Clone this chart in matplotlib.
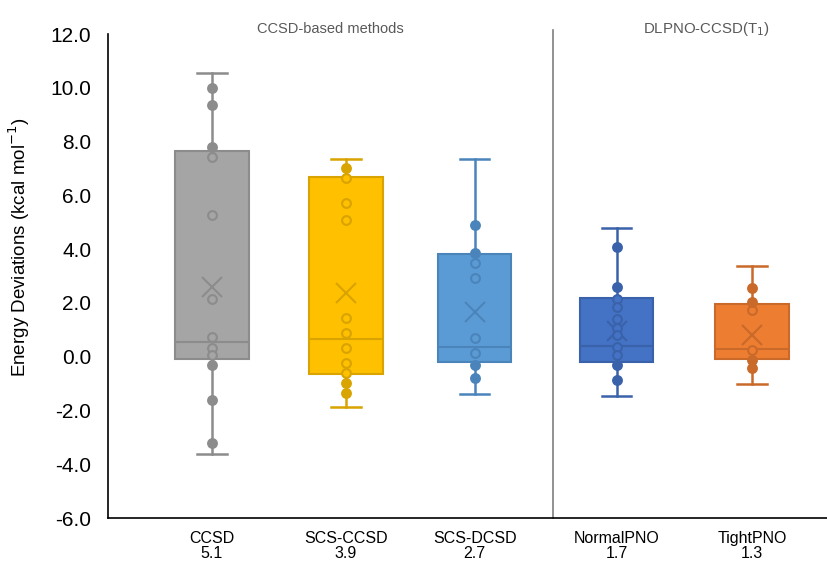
import numpy as np
import matplotlib.pyplot as plt

plt.rcParams['font.family'] = ['Liberation Sans', 'DejaVu Sans']

methods = ['CCSD', 'SCS-CCSD', 'SCS-DCSD', 'NormalPNO', 'TightPNO']
scores = ['5.1', '3.9', '2.7', '1.7', '1.3']
positions = [0, 1, 1.96, 3.02, 4.03]

# box statistics
q1 = [-0.10, -0.65, -0.19, -0.19, -0.10]
med = [0.56, 0.65, 0.37, 0.40, 0.29]
q3 = [7.65, 6.69, 3.82, 2.17, 1.96]
means = [2.58, 2.38, 1.65, 0.96, 0.81]
wlo = [-3.62, -1.86, -1.40, -1.45, -1.03]
whi = [10.55, 7.35, 7.35, 4.77, 3.37]

points = [
    [10.0, 9.36, 7.78, 7.41, 5.27, 2.13, 0.72, 0.34, 0.06, -0.31, -1.61, -3.2],
    [7.03, 6.65, 5.73, 5.07, 1.43, 0.88, 0.32, -0.22, -0.59, -0.97, -1.36],
    [4.88, 3.87, 3.49, 2.94, 0.71, 0.15, -0.32, -0.78],
    [4.07, 2.58, 2.13, 1.84, 1.39, 1.08, 0.81, 0.36, 0.06, -0.32, -0.87],
    [2.57, 2.02, 1.72, 0.25, -0.12, -0.43],
]

fills = ['#A5A5A5', '#FFC000', '#5B9BD5', '#4472C4', '#ED7D31']
edges = ['#8C8C8C', '#D9A300', '#4A84BA', '#3A62AA', '#C9692A']

fig = plt.figure(figsize=(8.27, 5.63), dpi=100)
ax = fig.add_axes([0.1306, 0.0799, 0.8694, 0.8597])

for i in range(len(methods)):
    st = {'med': med[i], 'q1': q1[i], 'q3': q3[i], 'whislo': wlo[i],
          'whishi': whi[i], 'mean': means[i], 'fliers': []}
    ax.bxp([st], positions=[positions[i]], widths=0.55, patch_artist=True,
           showmeans=True, meanline=False, showcaps=True,
           boxprops=dict(facecolor=fills[i], edgecolor=edges[i], linewidth=1.5),
           medianprops=dict(color=edges[i], linewidth=1.5),
           whiskerprops=dict(color=edges[i], linewidth=1.8),
           capprops=dict(color=edges[i], linewidth=1.8),
           capwidths=0.22,
           meanprops=dict(marker='x', markeredgecolor=edges[i], markersize=14,
                          markeredgewidth=1.5),
           manage_ticks=False, zorder=2)
    pts = np.array(points[i])
    inside = (pts >= q1[i]) & (pts <= q3[i])
    ax.scatter(np.full(inside.sum(), positions[i]), pts[inside], s=40,
               facecolor=fills[i], edgecolor=edges[i], linewidth=1.5, zorder=3)
    ax.scatter(np.full((~inside).sum(), positions[i]), pts[~inside], s=40,
               facecolor=edges[i], edgecolor=edges[i], linewidth=1.5, zorder=3)

ax.set_xlim(-0.776, 4.59)
ax.set_ylim(-6, 12)
yt = np.arange(-6, 12.1, 2)
ax.set_yticks(yt)
ax.set_yticklabels([f'{v:.1f}' for v in yt], fontsize=15)
ax.set_xticks(positions)
ax.set_xticklabels([m + '\n' + s for m, s in zip(methods, scores)], fontsize=11.5,
                   linespacing=1.0)
ax.tick_params(axis='both', length=0)
ax.tick_params(axis='x', pad=9.5)
ax.tick_params(axis='y', pad=12)
ax.set_ylabel('Energy Deviations (kcal mol$^{-1}$)', fontsize=13.5)
ax.yaxis.set_label_coords(-0.106, 0.56)

for s in ['top', 'right']:
    ax.spines[s].set_visible(False)
ax.spines['left'].set_linewidth(1.2)
ax.spines['bottom'].set_linewidth(1.2)

ax.plot([2.545, 2.545], [-6, 12.15], color='#7F7F7F', linewidth=1.2, clip_on=False)
ax.text(0.88, 12.2, 'CCSD-based methods', ha='center', va='center',
        fontsize=10.5, color='#595959', clip_on=False)
ax.text(3.69, 12.2, 'DLPNO-CCSD(T$_1$)', ha='center', va='center',
        fontsize=10.8, color='#595959', clip_on=False)

fig.savefig('out.png', dpi=100)
